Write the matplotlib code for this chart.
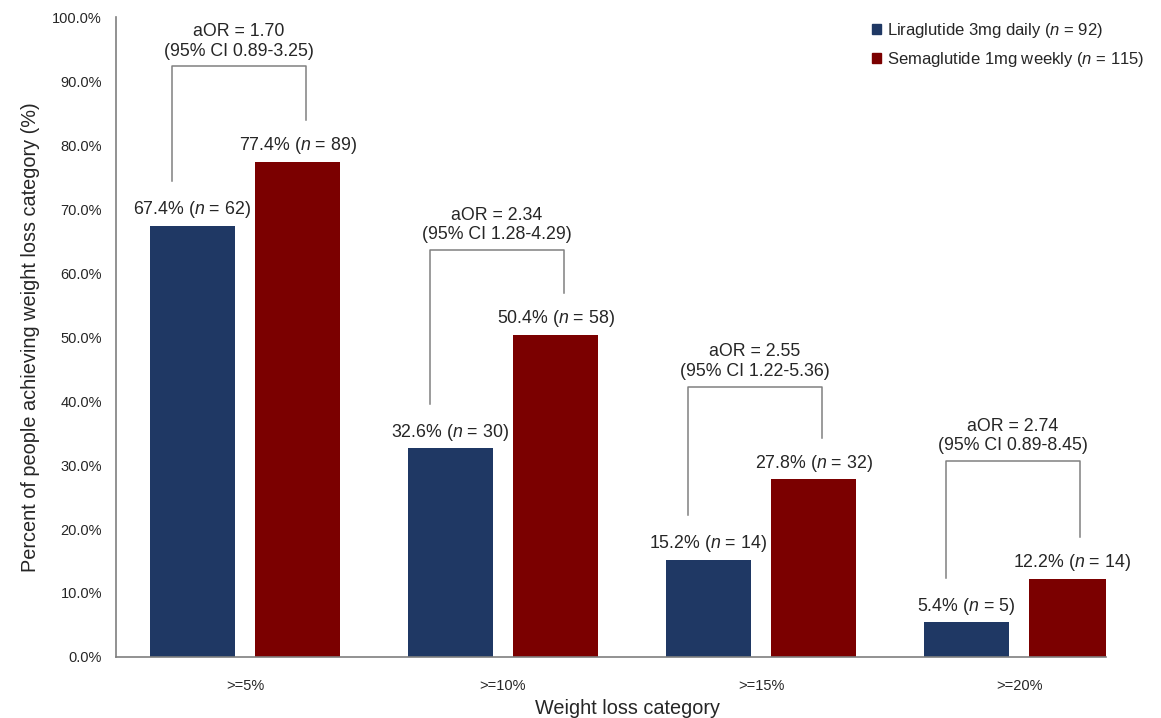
import matplotlib
matplotlib.use('Agg')
import matplotlib.pyplot as plt
import numpy as np
from matplotlib.patches import Patch

plt.rcParams['font.family'] = ['Liberation Sans', 'DejaVu Sans']
plt.rcParams['mathtext.fontset'] = 'custom'
plt.rcParams['mathtext.rm'] = 'Liberation Sans'
plt.rcParams['mathtext.it'] = 'Liberation Sans:italic'

categories = ['>=5%', '>=10%', '>=15%', '>=20%']
lira_pct = [67.4, 32.6, 15.2, 5.4]
lira_n = [62, 30, 14, 5]
sema_pct = [77.4, 50.4, 27.8, 12.2]
sema_n = [89, 58, 32, 14]
aor = ['1.70', '2.34', '2.55', '2.74']
ci = ['0.89-3.25', '1.28-4.29', '1.22-5.36', '0.89-8.45']
# top of each comparison bracket (%)
bracket_top = [92.3, 63.6, 42.2, 30.6]

blue = '#1f3864'
red = '#7b0000'
grey = '#808080'
text_col = '#262626'

fig = plt.figure(figsize=(11.61, 7.18), dpi=100)
ax = fig.add_axes([0.0999, 0.085, 0.8527, 0.891])

x = np.arange(len(categories))
w = 0.33
ax.bar(x - 0.205, lira_pct, width=w, color=blue, zorder=2)
ax.bar(x + 0.205, sema_pct, width=w, color=red, zorder=2)

for i in range(len(categories)):
    ax.annotate(f'{lira_pct[i]:.1f}% ($n$ = {lira_n[i]})', (x[i] - 0.205, lira_pct[i]),
                xytext=(0, 4), textcoords='offset points', ha='center', va='bottom',
                fontsize=12.8, color=text_col)
    ax.annotate(f'{sema_pct[i]:.1f}% ($n$ = {sema_n[i]})', (x[i] + 0.205, sema_pct[i]),
                xytext=(0, 4), textcoords='offset points', ha='center', va='bottom',
                fontsize=12.8, color=text_col)

    # bracket
    xl, xr = x[i] - 0.283, x[i] + 0.237
    ax.plot([xl, xl, xr, xr], [lira_pct[i] + 7, bracket_top[i], bracket_top[i], sema_pct[i] + 6.5],
            color=grey, lw=1.1, zorder=3, clip_on=False)
    ax.annotate(f'aOR = {aor[i]}\n(95% CI {ci[i]})', ((xl + xr) / 2, bracket_top[i]),
                xytext=(0, 5), textcoords='offset points', ha='center', va='bottom',
                fontsize=12.8, color=text_col, linespacing=1.2)

ax.set_xlim(-0.5, 3.337)
ax.set_ylim(0, 100)
ax.set_yticks(np.arange(0, 101, 10))
ax.set_yticklabels([f'{v:.1f}%' for v in np.arange(0, 101, 10)])
ax.set_xticks(x)
ax.set_xticklabels(categories)
ax.tick_params(axis='both', length=0, labelsize=10.5, colors=text_col)
ax.tick_params(axis='x', pad=16)
ax.tick_params(axis='y', pad=10)

for s in ['top', 'right']:
    ax.spines[s].set_visible(False)
for s in ['left', 'bottom']:
    ax.spines[s].set_color('#7f7f7f')
    ax.spines[s].set_linewidth(1.2)

ax.set_xlabel('Weight loss category', fontsize=14.3, color=text_col)
ax.xaxis.set_label_coords(0.517, -0.066)
ax.set_ylabel('Percent of people achieving weight loss category (%)', fontsize=14.3,
              color=text_col, labelpad=9)

handles = [Patch(color=blue, label='Liraglutide 3mg daily ($n$ = 92)'),
           Patch(color=red, label='Semaglutide 1mg weekly ($n$ = 115)')]
fig.legend(handles=handles, loc='upper left', bbox_to_anchor=(0.738, 0.992), frameon=False,
           fontsize=12, handlelength=0.55, handleheight=0.55, handletextpad=0.35,
           labelspacing=0.6, labelcolor=text_col)

fig.savefig('out.png', dpi=100)
